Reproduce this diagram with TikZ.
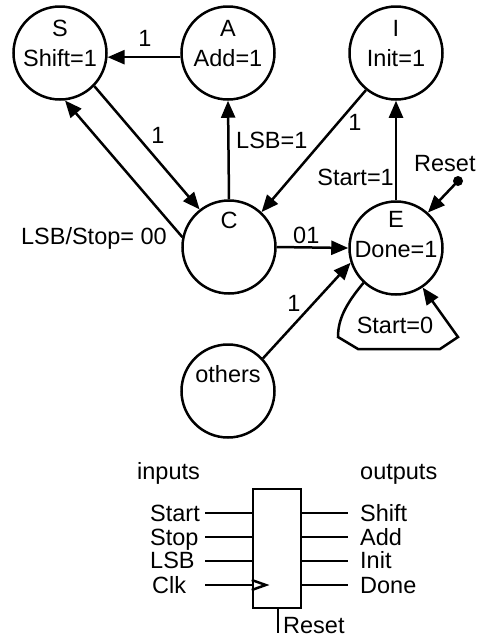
\documentclass[tikz,border=0pt]{standalone}
\usepackage{fontspec}
\setmainfont{Liberation Sans}
\usetikzlibrary{arrows.meta,calc}
\begin{document}
\begin{tikzpicture}[x=1pt,y=-1pt,
  every node/.style={font=\fontsize{23.5}{27}\selectfont},
  st/.style={draw,circle,line width=2.5pt,minimum size=93pt,inner sep=0pt},
  tx/.style={inner sep=0pt,anchor=base},
  txw/.style={inner sep=0pt,anchor=base west},
  txe/.style={inner sep=0pt,anchor=base east},
  edge/.style={line width=2.5pt,-{Triangle[length=17pt,width=14pt]}},
  wire/.style={line width=2.5pt}]
\useasboundingbox (0,0) rectangle (483,638);

% states
\node[st] (S) at (60,53) {};
\node[st] (A) at (228,53) {};
\node[st] (I) at (396,53) {};
\node[st] (C) at (229,247) {};
\node[st] (E) at (396,248) {};
\node[st] (O) at (228,391) {};

\node[tx] (Sn) at ($(S.center)+(0,-17)$) {S};
\node[tx] (Sv) at ($(S.center)+(0,13)$) {Shift=1};
\node[tx] (An) at ($(A.center)+(0,-17)$) {A};
\node[tx] (Av) at ($(A.center)+(0,13)$) {Add=1};
\node[tx] (In) at ($(I.center)+(0,-17)$) {I};
\node[tx] (Iv) at ($(I.center)+(0,13)$) {Init=1};
\node[tx] (Cn) at ($(C.center)+(0,-19)$) {C};
\node[tx] (En) at ($(E.center)+(0,-21)$) {E};
\node[tx] (Ev) at ($(E.center)+(0,9)$) {Done=1};
\node[tx] (On) at ($(O.center)+(0,-9)$) {others};

% transitions
\draw[edge] (A.185) -- (S.-5);
\node[tx] (l1) at (145,46) {1};
\draw[edge] (S.-44) -- (C.128);
\node[tx] (l2) at (158,143) {1};
\draw[edge] (C.168) -- (S.-84);
\node[txe] (l3) at (167,244) {LSB/Stop=\ 00};
\draw[edge] (C.north) -- (A.south);
\node[txw] (l4) at (236,148) {LSB=1};
\draw[edge] (I.-129) -- (C.47);
\node[tx] (l5) at (355,130) {1};
\draw[edge] (E.north) -- (I.south);
\node[txe] (l6) at (394,185) {Start=1};
\coordinate (rs) at (458,181);
\fill (rs) circle (5pt);
\draw[edge] (rs) -- (E.48);
\node[txw] (l7) at (414,171) {Reset};
\draw[edge] (C.east) -- (E.west);
\node[txw] (l8) at (293,243) {01};
\draw[edge] (O.43) -- (E.-162);
\node[tx] (l9) at (294,311) {1};
\draw[edge] (E.-133) .. controls (345,305) and (338,320) .. (338,337)
   -- (358,349) -- (440,349) -- (458,337) -- (E.-56);
\node[tx] (l10) at (395,333) {Start=0};

% block
\node[draw,line width=2.5pt,minimum width=48pt,minimum height=119pt,inner sep=0pt] (blk) at (277,548.5) {};
\node[txw] (tin) at (137,479) {inputs};
\node[txw] (tout) at (360,479) {outputs};

\coordinate (i1) at (205,513);
\coordinate (i2) at (205,537);
\coordinate (i3) at (205,561);
\coordinate (i4) at (205,585);
\draw[wire] (i1) -- (i1 -| blk.west);
\draw[wire] (i2) -- (i2 -| blk.west);
\draw[wire] (i3) -- (i3 -| blk.west);
\draw[wire] (i4) -- (i4 -| blk.west);
\node[txw] (n1) at (150,521) {Start};
\node[txw] (n2) at (150,545) {Stop};
\node[txw] (n3) at (150,568) {LSB};
\node[txw] (n4) at (152,593) {Clk};
\draw[wire] ($(blk.west)+(0,31.5)$) -- ++(14,5) -- ++(-14,5);

\coordinate (o1) at (348,513);
\coordinate (o2) at (348,537);
\coordinate (o3) at (348,561);
\coordinate (o4) at (348,585);
\draw[wire] (o1 -| blk.east) -- (o1);
\draw[wire] (o2 -| blk.east) -- (o2);
\draw[wire] (o3 -| blk.east) -- (o3);
\draw[wire] (o4 -| blk.east) -- (o4);
\node[txw] (m1) at (360,521) {Shift};
\node[txw] (m2) at (360,545) {Add};
\node[txw] (m3) at (360,568) {Init};
\node[txw] (m4) at (360,593) {Done};

\coordinate (rb) at (278,633);
\draw[wire] (rb |- blk.south) -- (rb);
\node[txw] (rl) at (283,633) {Reset};
\end{tikzpicture}
\end{document}
